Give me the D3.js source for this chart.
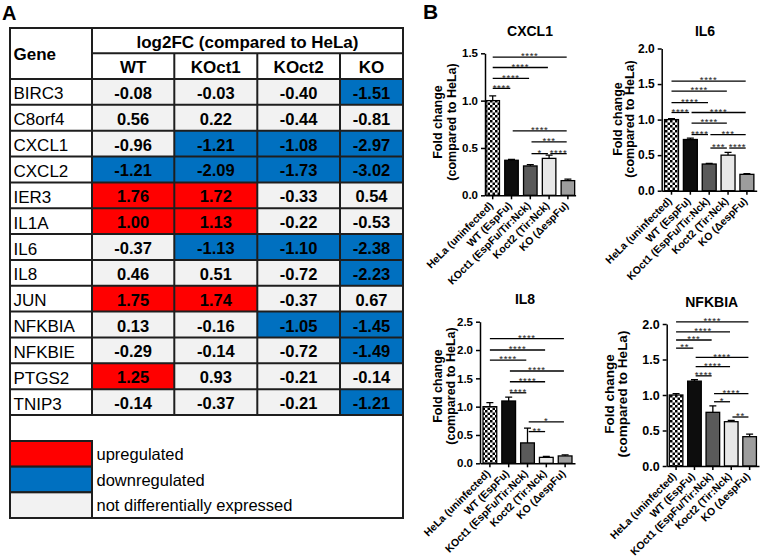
<!DOCTYPE html>
<html><head><meta charset="utf-8">
<script src="https://cdn.jsdelivr.net/npm/d3@7"></script>
<style>body{margin:0;background:#fff}svg{display:block;font-family:"Liberation Sans",Arial,Helvetica,sans-serif}</style>
</head><body>
<svg id="c" width="760" height="559"></svg>
<script>
// ---------- Panel A data ----------
const genes = ["BIRC3","C8orf4","CXCL1","CXCL2","IER3","IL1A","IL6","IL8","JUN","NFKBIA","NFKBIE","PTGS2","TNIP3"];
const conditions = ["WT","KOct1","KOct2","KO"];
const fcWT    = [-0.08, 0.56, -0.96, -1.21, 1.76, 1.00, -0.37, 0.46, 1.75, 0.13, -0.29, 1.25, -0.14];
const fcKOct1 = [-0.03, 0.22, -1.21, -2.09, 1.72, 1.13, -1.13, 0.51, 1.74, -0.16, -0.14, 0.93, -0.37];
const fcKOct2 = [-0.40, -0.44, -1.08, -1.73, -0.33, -0.22, -1.10, -0.72, -0.37, -1.05, -0.72, -0.21, -0.21];
const fcKO    = [-1.51, -0.81, -2.97, -3.02, 0.54, -0.53, -2.38, -2.23, 0.67, -1.45, -1.49, -0.14, -1.21];
const legendLabels = ["upregulated","downregulated","not differentially expressed"];

// ---------- Panel B data ----------
const groups = ["HeLa (uninfected)","WT (EspFu)","KOct1 (EspFu/Tir:Nck)","Koct2 (Tir:Nck)","KO (\u0394espFu)"];
const cxcl1Mean = [1.00, 0.37, 0.31, 0.39, 0.155];
const cxcl1Err  = [0.05, 0.01, 0.015, 0.035, 0.015];
const cxcl1Sig  = [[0,4,1.46,"****"],[0,3,1.35,"****"],[0,2,1.235,"****"],[0,1,1.13,"****"],
                   [1,4,0.68,"****"],[2,4,0.565,"***"],[2,3,0.44,"*"],[3,4,0.44,"****"]];
const il6Mean = [1.00, 0.72, 0.375, 0.50, 0.23];
const il6Err  = [0.012, 0.02, 0.01, 0.04, 0.01];
const il6Sig  = [[0,4,1.54,"****"],[0,3,1.40,"****"],[0,2,1.24,"****"],[0,1,1.10,"****"],[1,4,1.10,"****"],
                 [1,3,0.95,"****"],[1,2,0.79,"****"],[2,4,0.79,"***"],[2,3,0.60,"***"],[3,4,0.60,"****"]];
const il8Mean = [1.00, 1.10, 0.36, 0.105, 0.13];
const il8Err  = [0.07, 0.07, 0.26, 0.015, 0.02];
const il8Sig  = [[0,4,2.20,"****"],[0,3,2.00,"****"],[0,2,1.82,"****"],[1,4,1.63,"****"],[1,3,1.44,"****"],
                 [1,2,1.245,"****"],[2,4,0.73,"*"],[2,3,0.56,"**"]];
const nfkbiaMean = [1.00, 1.195, 0.756, 0.624, 0.413];
const nfkbiaErr  = [0.02, 0.02, 0.09, 0.02, 0.035];
const nfkbiaSig  = [[0,4,2.03,"****"],[0,3,1.89,"****"],[0,2,1.775,"***"],[0,1,1.66,"**"],[1,4,1.53,"****"],
                    [1,3,1.40,"****"],[1,2,1.27,"****"],[2,4,1.02,"****"],[2,3,0.905,"*"],[3,4,0.69,"**"]];

// ---------- drawing ----------
const svg = d3.select("#c");
svg.append("rect").attr("width",760).attr("height",559).attr("fill","#fff");
const defs = svg.append("defs");
const pat = defs.append("pattern").attr("id","chk").attr("patternUnits","userSpaceOnUse")
  .attr("width",5).attr("height",5);
pat.append("rect").attr("width",5).attr("height",5).attr("fill","#fff");
pat.append("rect").attr("width",2.5).attr("height",2.5).attr("fill","#000");
pat.append("rect").attr("x",2.5).attr("y",2.5).attr("width",2.5).attr("height",2.5).attr("fill","#000");

svg.append("text").attr("x",2).attr("y",20).attr("font-size",20).attr("font-weight","bold").text("A");
svg.append("text").attr("x",423).attr("y",19).attr("font-size",21).attr("font-weight","bold").text("B");

// ---- Table ----
const LC = "#1e1e1e", LW = 2;
const T = {left:10, right:403, top:28, mid:53.3, head:79, bodyBottom:415, bottom:518};
const colKeys = ["Gene", ...conditions];
const colLeft = d3.scaleOrdinal().domain(colKeys).range([10, 92, 174.3, 257.3, 340]);
const colRight = d3.scaleOrdinal().domain(colKeys).range([92, 174.3, 257.3, 340, 403]);
const row = d3.scaleBand().domain(genes).range([T.head, T.bodyBottom]);
const fill = d3.scaleThreshold().domain([-1, 1]).range(["#0070c0","#f2f2f2","#ff0000"]);
const fmt = v => d3.format(".2f")(v).replace("\u2212", "-");
const series = [fcWT, fcKOct1, fcKOct2, fcKO];
const tbl = svg.append("g");

genes.forEach((gname, i) => {
  conditions.forEach((c, j) => {
    const v = series[j][i];
    tbl.append("rect").attr("x", colLeft(c)).attr("y", row(gname))
      .attr("width", colRight(c) - colLeft(c)).attr("height", row.bandwidth())
      .attr("fill", fill(v));
    tbl.append("text").attr("x", (colLeft(c) + colRight(c)) / 2).attr("y", row(gname) + row.bandwidth()/2 + 7)
      .attr("text-anchor","middle").attr("font-size",16.5).attr("font-weight","bold").attr("fill","#000")
      .text(fmt(v));
  });
  tbl.append("text").attr("x", 13.5).attr("y", row(gname) + row.bandwidth()/2 + 7.5)
    .attr("font-size",17).attr("fill","#000").text(gname);
});
// headers
tbl.append("text").attr("x",13.5).attr("y",(T.top+T.head)/2+6).attr("font-size",17).attr("font-weight","bold").text("Gene");
tbl.append("text").attr("x",(92+403)/2).attr("y",47.5).attr("text-anchor","middle").attr("font-size",17)
  .attr("font-weight","bold").text("log2FC (compared to HeLa)");
conditions.forEach(c => {
  tbl.append("text").attr("x",(colLeft(c)+colRight(c))/2).attr("y",(T.mid+T.head)/2+6.8)
    .attr("text-anchor","middle").attr("font-size",17).attr("font-weight","bold").text(c);
});
// legend
const leg = d3.scaleBand().domain(legendLabels).range([441, T.bottom]);
const legFill = d3.scaleOrdinal().domain(legendLabels).range([fill(1.5), fill(-1.5), fill(0)]);
legendLabels.forEach(l => {
  tbl.append("rect").attr("x",T.left).attr("y",leg(l)).attr("width",92-T.left).attr("height",leg.bandwidth())
    .attr("fill",legFill(l)).attr("stroke",LC).attr("stroke-width",LW);
  tbl.append("text").attr("x",96.5).attr("y",leg(l)+leg.bandwidth()/2+6).attr("font-size",16.5).text(l);
});
// grid lines
const line = (x1,y1,x2,y2) => tbl.append("line").attr("x1",x1).attr("y1",y1).attr("x2",x2).attr("y2",y2)
  .attr("stroke",LC).attr("stroke-width",LW);
genes.forEach(gname => line(T.left, row(gname), T.right, row(gname)));
line(T.left, T.bodyBottom, T.right, T.bodyBottom);
line(92, T.mid, T.right, T.mid);
line(92, T.top, 92, T.bodyBottom);
conditions.slice(1).forEach(c => line(colLeft(c), T.mid, colLeft(c), T.bodyBottom));
tbl.append("rect").attr("x",T.left).attr("y",T.top).attr("width",T.right-T.left).attr("height",T.bottom-T.top)
  .attr("fill","none").attr("stroke",LC).attr("stroke-width",LW);

// ---- Bar charts ----
const barFills = ["url(#chk)","#0d0d0d","#5a5a5a","#e8e8e8","#9d9d9d"];
const charts = [
  {title:"CXCL1", mean:cxcl1Mean, err:cxcl1Err, sig:cxcl1Sig, x0:485, x1:575.6, pi:0.28, po:0.05,
   y0:195.3, yTop:53.3, ymax:1.5, tf:11.5, xf:10.5, tx:530, ty:36, lb1:442, lb2:456, lcy:122, lf:12.5},
  {title:"IL6", mean:il6Mean, err:il6Err, sig:il6Sig, x0:661.7, x1:756.7, pi:0.26, po:0.15,
   y0:190.7, yTop:48.5, ymax:2.0, tf:12, xf:10.5, tx:705, ty:36, lb1:622, lb2:634, lcy:119, lf:12.5},
  {title:"IL8", mean:il8Mean, err:il8Err, sig:il8Sig, x0:480, x1:575, pi:0.27, po:0.16,
   y0:463.3, yTop:321.7, ymax:2.5, tf:11.5, xf:10.5, tx:525, ty:303.5, lb1:442, lb2:455, lcy:386, lf:12.5},
  {title:"NFKBIA", mean:nfkbiaMean, err:nfkbiaErr, sig:nfkbiaSig, x0:666.7, x1:759, pi:0.26, po:0.14,
   y0:466, yTop:324, ymax:2.0, tf:12.5, xf:10.5, tx:711.7, ty:306.5, lb1:614, lb2:627, lcy:394, lf:13.5}
];

charts.forEach(cfg => {
  const g = svg.append("g");
  const x = d3.scaleBand().domain(groups).range([cfg.x0, cfg.x1]).paddingInner(cfg.pi).paddingOuter(cfg.po);
  const y = d3.scaleLinear().domain([0, cfg.ymax]).range([cfg.y0, cfg.yTop]);
  const bw = x.bandwidth();
  const cx = d => x(d) + bw/2;

  // error bars
  g.selectAll("path.err").data(groups).join("path")
    .attr("d", (d,i) => `M${cx(d)},${y(cfg.mean[i])}V${y(cfg.mean[i]+cfg.err[i])}M${cx(d)-3.5},${y(cfg.mean[i]+cfg.err[i])}H${cx(d)+3.5}`)
    .attr("stroke","#000").attr("stroke-width",1.3).attr("fill","none");
  // bars
  g.selectAll("rect.bar").data(groups).join("rect")
    .attr("x", d => x(d)).attr("y", (d,i) => y(cfg.mean[i]))
    .attr("width", bw).attr("height", (d,i) => y(0) - y(cfg.mean[i]))
    .attr("fill", (d,i) => barFills[i]).attr("stroke","#000").attr("stroke-width",1.3);

  // y axis
  const ya = g.append("g").attr("transform",`translate(${cfg.x0},0)`)
    .call(d3.axisLeft(y).tickValues(d3.range(0, cfg.ymax + 0.001, 0.5)).tickFormat(d3.format(".1f"))
      .tickSize(4).tickSizeOuter(0).tickPadding(3));
  ya.attr("font-family",null).attr("font-size",cfg.tf).attr("font-weight","bold");
  ya.selectAll("path,line").attr("stroke","#000").attr("stroke-width",1.5);
  ya.selectAll("text").attr("fill","#000");

  // x axis
  const xa = g.append("g").attr("transform",`translate(0,${cfg.y0})`)
    .call(d3.axisBottom(x).tickSize(4).tickSizeOuter(0));
  xa.attr("font-family",null).attr("font-size",cfg.xf).attr("font-weight","bold");
  xa.selectAll("path,line").attr("stroke","#000").attr("stroke-width",1.5);
  xa.selectAll("text").attr("fill","#000").attr("text-anchor","end")
    .attr("x",0).attr("y",0).attr("dy",0)
    .attr("transform","translate(1,11) rotate(-45)");

  // significance brackets
  cfg.sig.forEach(([a,b,lev,lab]) => {
    const xa1 = cx(groups[a]) + (a === 0 ? 0 : 1.2), xb = cx(groups[b]) - 1.2, yy = y(lev);
    g.append("line").attr("x1",xa1).attr("x2",xb).attr("y1",yy).attr("y2",yy)
      .attr("stroke","#000").attr("stroke-width",1.3);
    g.append("text").attr("x",(xa1+xb)/2).attr("y",yy+2.2).attr("text-anchor","middle")
      .attr("font-size",9.5).attr("letter-spacing",0.7).attr("fill","#222").text(lab);
  });

  // title
  g.append("text").attr("x",cfg.tx).attr("y",cfg.ty).attr("text-anchor","middle")
    .attr("font-size",14).attr("font-weight","bold").text(cfg.title);
  // y label
  g.append("text").attr("transform",`translate(${cfg.lb1},${cfg.lcy}) rotate(-90)`).attr("text-anchor","middle")
    .attr("font-size",cfg.lf).attr("font-weight","bold").text("Fold change");
  g.append("text").attr("transform",`translate(${cfg.lb2},${cfg.lcy}) rotate(-90)`).attr("text-anchor","middle")
    .attr("font-size",cfg.lf).attr("font-weight","bold").text("(compared to HeLa)");
});
</script>
</body></html>
